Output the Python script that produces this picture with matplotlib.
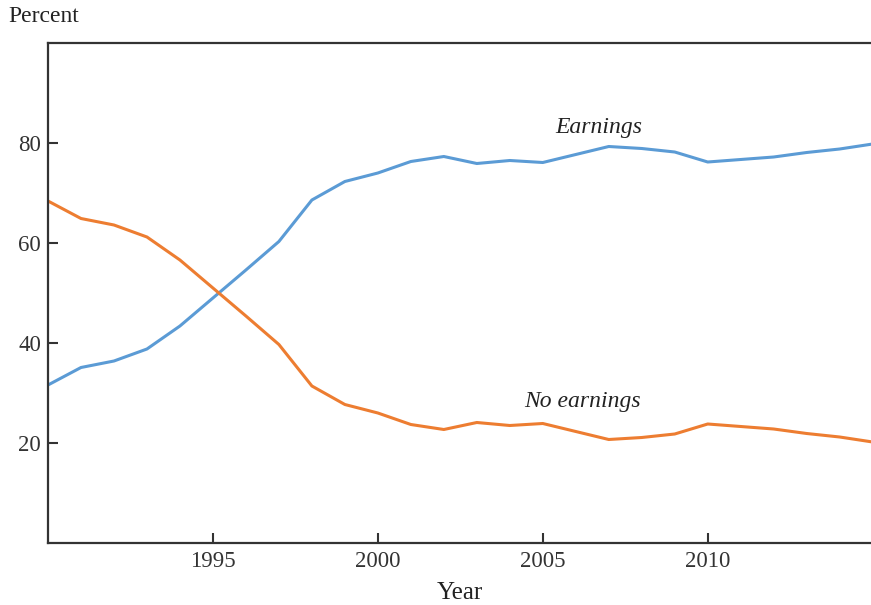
import matplotlib
matplotlib.use("Agg")
import matplotlib.pyplot as plt

plt.rcParams['font.family'] = ['Liberation Serif', 'DejaVu Serif']

years = list(range(1990, 2016))
earnings = [31.6, 35.1, 36.4, 38.8, 43.4, 49.0, 54.6, 60.3, 68.6, 72.3,
            74.0, 76.3, 77.3, 75.9, 76.5, 76.1, 77.7, 79.3, 78.9, 78.2,
            76.2, 76.7, 77.2, 78.1, 78.8, 79.8]
no_earnings = [68.4, 64.9, 63.6, 61.2, 56.6, 51.0, 45.4, 39.7, 31.4, 27.7,
               26.0, 23.7, 22.7, 24.1, 23.5, 23.9, 22.3, 20.7, 21.1, 21.8,
               23.8, 23.3, 22.8, 21.9, 21.2, 20.2]
yticks = [20, 40, 60, 80]
xticks = [1995, 2000, 2005, 2010]

blue = '#5b9bd5'
orange = '#ed7d31'

fig = plt.figure(figsize=(8.71, 6.05), dpi=100)
ax = fig.add_axes([48/871, 1 - 543/605, 1 - 48/871, 500/605])

ax.plot(years, earnings, color=blue, lw=2.2)
ax.plot(years, no_earnings, color=orange, lw=2.2)

ax.set_xlim(1990, 2014.95)
ax.set_ylim(0, 100)
ax.set_xticks(xticks)
ax.set_yticks(yticks)
ax.tick_params(direction='in', length=7, width=1.5, labelsize=16.5,
               colors='#333333', pad=5)
ax.tick_params(axis='x', pad=6)

for s in ['left', 'bottom', 'top']:
    ax.spines[s].set_linewidth(1.6)
    ax.spines[s].set_color('#333333')
ax.spines['right'].set_visible(False)

ax.text(2006.7, 83.0, 'Earnings', style='italic', fontsize=17,
        ha='center', va='center', color='#222222')
ax.text(2006.2, 28.4, 'No earnings', style='italic', fontsize=17,
        ha='center', va='center', color='#222222')

fig.text(8/871, 1 - 17/605, 'Percent', fontsize=17, ha='left', va='center',
         color='#222222')
fig.text(460/871, 1 - 593/605, 'Year', fontsize=18, ha='center',
         va='center', color='#222222')

fig.savefig('out.png', dpi=100)
